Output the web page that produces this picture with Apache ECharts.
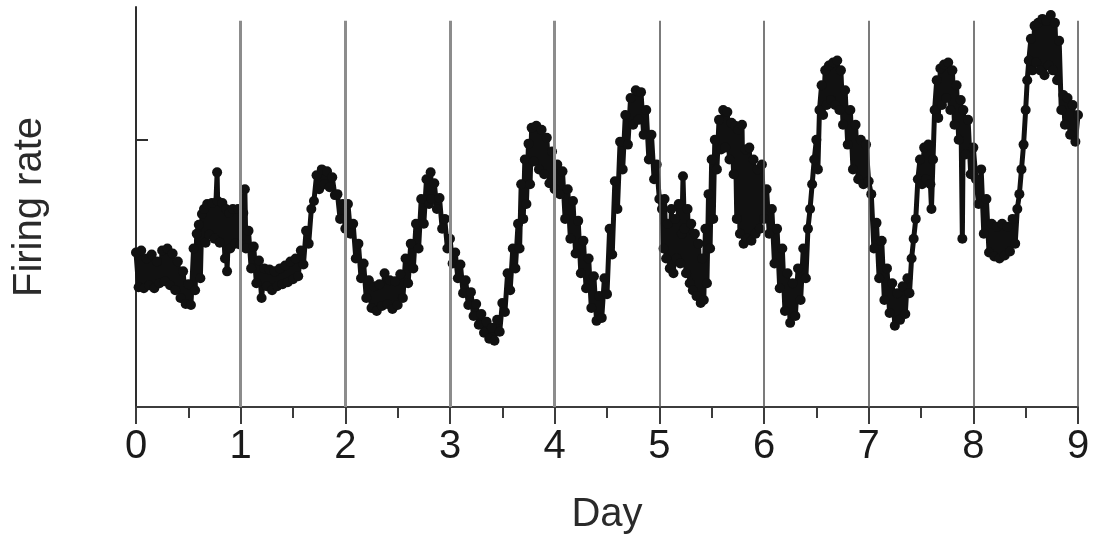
<!DOCTYPE html>
<html>
<head>
<meta charset="utf-8">
<script src="https://cdn.jsdelivr.net/npm/echarts@6/dist/echarts.min.js"></script>
<style>
  html, body { margin: 0; padding: 0; background: #fff; }
  #chart { width: 1099px; height: 540px; }
</style>
</head>
<body>
<div id="chart"></div>
<script>
// Firing rate (arbitrary units) sampled over nine days: [day, rate]
const day0 = [[0.000,156],[0.025,121],[0.050,158],[0.075,120],[0.100,150],[0.125,123],[0.150,154],[0.175,120],[0.200,147],[0.225,125],[0.250,158],[0.275,127],[0.300,160],[0.325,123],[0.350,155],[0.375,118],[0.400,147],[0.425,110],[0.450,137],[0.475,104],[0.500,124],[0.525,103],[0.550,160],[0.565,118],[0.580,175],[0.600,184],[0.615,130],[0.630,195],[0.650,200],[0.665,166],[0.680,205],[0.700,174],[0.725,206],[0.750,170],[0.775,237],[0.780,208],[0.800,166],[0.825,206],[0.850,150],[0.860,200],[0.870,137],[0.890,196],[0.900,160],[0.925,200],[0.950,165],[0.975,200],[1.000,164]];
const day1 = [[1.025,196],[1.040,220],[1.050,160],[1.075,178],[1.100,140],[1.125,162],[1.150,125],[1.175,148],[1.200,110],[1.225,140],[1.250,122],[1.275,139],[1.300,118],[1.325,137],[1.350,122],[1.375,140],[1.400,124],[1.425,143],[1.450,126],[1.475,147],[1.500,129],[1.525,150],[1.550,132],[1.575,158],[1.600,144],[1.625,178],[1.650,165],[1.675,200],[1.700,208],[1.725,234],[1.750,220],[1.775,240],[1.800,225],[1.825,238],[1.850,222],[1.875,232],[1.900,214],[1.925,215],[1.950,190],[1.975,205],[2.000,180]];
const day2 = [[2.025,205],[2.050,175],[2.075,185],[2.100,150],[2.125,165],[2.150,130],[2.175,145],[2.200,110],[2.225,128],[2.250,100],[2.275,122],[2.300,97],[2.325,124],[2.350,102],[2.375,135],[2.400,104],[2.425,128],[2.450,99],[2.475,127],[2.500,103],[2.525,134],[2.550,110],[2.575,150],[2.600,125],[2.625,165],[2.650,140],[2.675,185],[2.700,160],[2.725,210],[2.750,185],[2.775,230],[2.800,205],[2.815,237],[2.825,210],[2.850,226],[2.875,200],[2.900,211],[2.925,180],[2.950,190],[2.975,160],[3.000,170]];
const day3 = [[3.025,145],[3.050,156],[3.075,130],[3.100,144],[3.125,115],[3.150,128],[3.175,103],[3.200,116],[3.225,92],[3.250,104],[3.275,83],[3.300,94],[3.325,75],[3.350,86],[3.375,69],[3.400,80],[3.425,67],[3.450,88],[3.475,76],[3.500,105],[3.525,96],[3.550,135],[3.575,118],[3.600,160],[3.625,140],[3.650,185],[3.665,160],[3.680,225],[3.700,190],[3.715,250],[3.730,205],[3.750,266],[3.765,225],[3.780,282],[3.800,248],[3.825,284],[3.850,240],[3.875,280],[3.900,235],[3.925,272],[3.950,226],[3.975,258],[4.000,220]];
const day4 = [[4.025,245],[4.050,215],[4.075,238],[4.100,190],[4.125,220],[4.150,170],[4.175,208],[4.200,155],[4.225,188],[4.250,135],[4.275,168],[4.300,120],[4.325,150],[4.350,100],[4.375,132],[4.400,87],[4.425,112],[4.450,90],[4.475,130],[4.500,114],[4.525,180],[4.550,154],[4.575,228],[4.600,200],[4.625,268],[4.650,240],[4.675,295],[4.700,265],[4.725,312],[4.750,285],[4.775,320],[4.800,290],[4.825,318],[4.850,275],[4.875,300],[4.900,250],[4.925,275],[4.950,230],[4.975,245],[5.000,210]];
const day5 = [[5.025,200],[5.040,160],[5.050,210],[5.065,150],[5.080,185],[5.100,140],[5.115,200],[5.135,135],[5.150,190],[5.165,150],[5.185,205],[5.200,145],[5.215,175],[5.226,233],[5.240,180],[5.255,135],[5.270,200],[5.290,125],[5.305,185],[5.320,118],[5.340,175],[5.355,112],[5.375,165],[5.395,105],[5.410,150],[5.425,108],[5.440,180],[5.455,125],[5.470,215],[5.485,160],[5.500,250],[5.515,190],[5.530,270],[5.550,240],[5.570,290],[5.590,260],[5.610,300],[5.630,262],[5.650,298],[5.670,250],[5.690,287],[5.710,235],[5.725,284],[5.740,190],[5.755,280],[5.770,175],[5.790,285],[5.805,165],[5.825,260],[5.840,170],[5.860,262],[5.880,168],[5.900,250],[5.920,175],[5.940,240],[5.960,180],[5.980,245],[6.000,190]];
const day6 = [[6.025,220],[6.050,175],[6.075,200],[6.100,145],[6.125,180],[6.150,120],[6.175,160],[6.200,97],[6.225,135],[6.250,85],[6.275,125],[6.300,92],[6.325,140],[6.350,108],[6.375,160],[6.400,130],[6.420,180],[6.440,200],[6.460,225],[6.480,250],[6.500,270],[6.515,240],[6.530,300],[6.550,325],[6.565,295],[6.585,340],[6.600,305],[6.620,345],[6.640,310],[6.660,348],[6.680,305],[6.700,350],[6.720,300],[6.735,340],[6.755,285],[6.775,320],[6.800,265],[6.825,300],[6.850,240],[6.875,285],[6.900,230],[6.925,270],[6.950,225],[6.975,265],[7.000,228]];
const day7 = [[7.025,215],[7.050,160],[7.075,186],[7.100,130],[7.125,168],[7.150,108],[7.175,140],[7.200,95],[7.225,125],[7.250,82],[7.275,115],[7.300,88],[7.325,122],[7.350,94],[7.370,130],[7.390,115],[7.410,150],[7.430,170],[7.450,190],[7.470,230],[7.490,250],[7.510,225],[7.530,262],[7.550,230],[7.570,265],[7.590,225],[7.600,200],[7.615,250],[7.630,300],[7.650,330],[7.665,292],[7.685,342],[7.700,305],[7.720,346],[7.740,312],[7.760,348],[7.780,300],[7.800,340],[7.820,285],[7.840,325],[7.860,270],[7.880,310],[7.895,170],[7.905,300],[7.925,255],[7.950,290],[7.975,235],[8.000,262]];
const day8 = [[8.025,230],[8.050,205],[8.075,240],[8.100,175],[8.125,210],[8.150,156],[8.175,185],[8.200,152],[8.225,182],[8.250,150],[8.275,185],[8.300,153],[8.325,182],[8.350,157],[8.375,190],[8.400,165],[8.420,200],[8.440,215],[8.460,240],[8.480,265],[8.500,300],[8.515,330],[8.530,350],[8.550,372],[8.565,340],[8.585,385],[8.600,348],[8.620,388],[8.640,340],[8.660,392],[8.680,335],[8.700,390],[8.720,345],[8.740,396],[8.760,340],[8.780,388],[8.800,330],[8.820,370],[8.840,300],[8.860,315],[8.875,285],[8.900,312],[8.925,275],[8.950,305],[8.975,268],[9.000,295]];

const firingRate = [].concat(day0, day1, day2, day3, day4, day5, day6, day7, day8);

// Axis ticks and day boundaries
const dayTicks = [0, 1, 2, 3, 4, 5, 6, 7, 8, 9];
const dayBoundaries = [1, 2, 3, 4, 5, 6, 7, 8, 9];
const rateTick = 270;
const rateMax = 404;
const boundaryTop = 390;

const font = '"Liberation Sans", Arial, Helvetica, sans-serif';

const boundaryLines = dayBoundaries.map(function (d) {
  const early = d <= 4;
  return [
    { coord: [d, 0], lineStyle: { color: early ? '#8c8c8c' : '#5a5a5a', width: early ? 3 : 1.6, type: 'solid' } },
    { coord: [d, boundaryTop] }
  ];
});

const chart = echarts.init(document.getElementById('chart'), null, { renderer: 'canvas' });
chart.setOption({
  animation: false,
  backgroundColor: '#ffffff',
  grid: { left: 136, right: 21, top: 7, bottom: 129, containLabel: false },
  xAxis: {
    type: 'value',
    min: dayTicks[0],
    max: dayTicks[dayTicks.length - 1],
    interval: 1,
    name: 'Day',
    nameLocation: 'middle',
    nameGap: 88,
    nameTextStyle: { fontFamily: font, fontSize: 40, color: '#2a2a2a' },
    axisLine: { show: true, onZero: false, lineStyle: { color: '#3c3c3c', width: 2 } },
    axisTick: { show: true, length: 17, lineStyle: { color: '#3c3c3c', width: 2 } },
    minorTick: { show: true, splitNumber: 2, length: 11, lineStyle: { color: '#3c3c3c', width: 2 } },
    axisLabel: { margin: 20, fontFamily: font, fontSize: 40, color: '#1a1a1a' },
    splitLine: { show: false }
  },
  yAxis: {
    type: 'value',
    min: 0,
    max: rateMax,
    name: 'Firing rate',
    nameLocation: 'middle',
    nameGap: 86,
    nameTextStyle: { fontFamily: font, fontSize: 40, color: '#2a2a2a' },
    axisLine: { show: true, onZero: false, lineStyle: { color: '#2e2e2e', width: 2 } },
    axisTick: { show: true, inside: true, length: 12, customValues: [rateTick], lineStyle: { color: '#2e2e2e', width: 2 } },
    axisLabel: { show: false },
    splitLine: { show: false }
  },
  series: [
    {
      type: 'line',
      data: [],
      z: 1,
      silent: true,
      markLine: {
        silent: true,
        symbol: ['none', 'none'],
        label: { show: false },
        animation: false,
        data: boundaryLines
      }
    },
    {
      type: 'line',
      data: firingRate,
      z: 3,
      symbol: 'circle',
      symbolSize: 10,
      showSymbol: true,
      lineStyle: { color: '#111', width: 5 },
      itemStyle: { color: '#111', borderWidth: 0 }
    }
  ]
});
</script>
</body>
</html>
